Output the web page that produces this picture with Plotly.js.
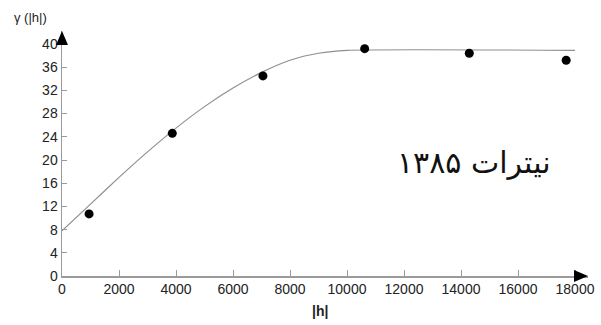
<!DOCTYPE html>
<html><head><meta charset="utf-8">
<script src="https://cdn.plot.ly/plotly-3.0.1.min.js"></script>
<style>html,body{margin:0;padding:0;background:#fff}#chart{width:601px;height:325px}</style>
</head><body><div id="chart"></div>
<script>
// experimental variogram points
const lagH = [950, 3870, 7050, 10620, 14290, 17690];
const gammaObs = [10.7, 24.6, 34.5, 39.2, 38.4, 37.2];
// fitted model curve
const modelH = [0, 1000, 2000, 3000, 4000, 5000, 6000, 7000, 8000, 9000, 10000, 18000];
const modelGamma = [7.8, 12.4, 17.0, 21.4, 25.5, 29.2, 32.4, 35.1, 37.2, 38.4, 38.9, 38.9];
const xTicks = [0, 2000, 4000, 6000, 8000, 10000, 12000, 14000, 16000, 18000];
const yTicks = [0, 4, 8, 12, 16, 20, 24, 28, 32, 36, 40];
const labelText = 'نیترات ۱۳۸۵';

const traces = [
  {x: modelH, y: modelGamma, mode: 'lines', line: {color: '#8f8f8f', width: 1.2, shape: 'spline', smoothing: 0.6}, hoverinfo: 'skip'},
  {x: lagH, y: gammaObs, mode: 'markers', marker: {color: '#000', size: 9}}
];
const axisCol = '#9a9a9a';
const layout = {
  width: 601, height: 325,
  margin: {l: 62, r: 13, t: 31, b: 49},
  paper_bgcolor: '#fff', plot_bgcolor: '#fff',
  showlegend: false,
  font: {family: 'Liberation Sans, Arial, sans-serif', size: 14, color: '#222'},
  xaxis: {range: [0, 18456], tickvals: xTicks, ticktext: xTicks.map(String), showgrid: false, zeroline: false,
    showline: true, linecolor: axisCol, linewidth: 1.5, ticks: 'inside', ticklen: 6, tickcolor: axisCol, tickwidth: 1,
    tickfont: {size: 14, color: '#222'}},
  yaxis: {range: [0, 42.24], tickvals: yTicks, ticktext: yTicks.map(String), showgrid: false, zeroline: false,
    showline: true, linecolor: axisCol, linewidth: 1.5, ticks: 'inside', ticklen: 5, tickcolor: axisCol, tickwidth: 1,
    tickfont: {size: 14, color: '#222'}},
  shapes: [
    {type: 'path', xref: 'paper', yref: 'paper', xsizemode: 'pixel', ysizemode: 'pixel', xanchor: 1, yanchor: 0,
     path: 'M-14,-6 L-14,6 L0,0 Z', fillcolor: '#000', line: {width: 0}},
    {type: 'path', xref: 'paper', yref: 'paper', xsizemode: 'pixel', ysizemode: 'pixel', xanchor: 0, yanchor: 1,
     path: 'M-6,-14 L6,-14 L0,0 Z', fillcolor: '#000', line: {width: 0}}
  ],
  annotations: [
    {text: 'γ (|h|)', xref: 'paper', yref: 'paper', x: -0.095, y: 1.015, xanchor: 'left', yanchor: 'bottom', showarrow: false,
     font: {size: 13, color: '#222'}},
    {text: '<b>|h|</b>', xref: 'x', yref: 'paper', x: 9050, y: -0.1, xanchor: 'center', yanchor: 'top', showarrow: false,
     font: {size: 14, color: '#222'}},
    {text: labelText, xref: 'x', yref: 'y', x: 14450, y: 19.6, xanchor: 'center', yanchor: 'middle', showarrow: false,
     font: {family: 'DejaVu Sans, sans-serif', size: 30, color: '#111'}}
  ]
};
Plotly.newPlot('chart', traces, layout, {staticPlot: true, displayModeBar: false});
</script></body></html>
